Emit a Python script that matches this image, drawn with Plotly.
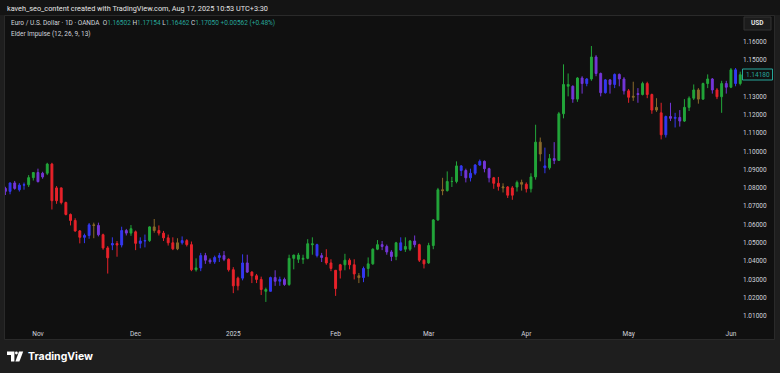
import pandas as pd
import plotly.graph_objects as go

# ---------------- data (EUR/USD daily, OANDA) ----------------
dates = [d.strftime("%Y-%m-%d") for d in pd.bdate_range("2024-10-23", "2025-06-04")
         if d.strftime("%Y-%m-%d") not in ("2024-12-25", "2025-01-01")]

opens = [1.0797,1.0781,1.0827,1.0790,1.0815,1.0817,1.0856,1.0884,1.0860,1.0880,
         1.0930,1.0730,1.0800,1.0720,1.0655,1.0622,1.0565,1.0530,1.0540,1.0598,
         1.0595,1.0544,1.0472,1.0488,1.0496,1.0488,1.0567,1.0553,1.0560,1.0497,
         1.0510,1.0512,1.0587,1.0567,1.0553,1.0527,1.0500,1.0467,1.0500,1.0512,
         1.0490,1.0353,1.0363,1.0430,1.0405,1.0396,1.0420,1.0430,1.0410,1.0353,
         1.0265,1.0307,1.0390,1.0340,1.0320,1.0300,1.0245,1.0235,1.0310,1.0290,
         1.0300,1.0272,1.0415,1.0433,1.0410,1.0415,1.0495,1.0490,1.0430,1.0420,
         1.0390,1.0250,1.0350,1.0380,1.0405,1.0380,1.0320,1.0310,1.0360,1.0385,
         1.0465,1.0490,1.0480,1.0450,1.0425,1.0500,1.0480,1.0465,1.0510,1.0490,
         1.0405,1.0390,1.0485,1.0625,1.0790,1.0785,1.0835,1.0835,1.0920,1.0895,
         1.0855,1.0880,1.0925,1.0945,1.0905,1.0855,1.0825,1.0800,1.0805,1.0760,
         1.0805,1.0830,1.0820,1.0795,1.0860,1.1050,1.0920,1.0910,1.0960,1.0950,
         1.1205,1.1365,1.1355,1.1285,1.1400,1.1370,1.1395,1.1515,1.1425,1.1320,
         1.1390,1.1365,1.1420,1.1395,1.1330,1.1295,1.1315,1.1310,1.1370,1.1310,
         1.1225,1.1210,1.1090,1.1190,1.1180,1.1185,1.1165,1.1240,1.1290,1.1335,
         1.1285,1.1370,1.1395,1.1335,1.1298,1.1370,1.1350,1.1445,1.1370]
highs = [1.0806,1.0829,1.0838,1.0826,1.0829,1.0870,1.0886,1.0905,1.0888,1.0937,
         1.0937,1.0810,1.0802,1.0725,1.0660,1.0634,1.0570,1.0550,1.0608,1.0610,
         1.0610,1.0550,1.0482,1.0530,1.0510,1.0588,1.0576,1.0597,1.0567,1.0530,
         1.0545,1.0590,1.0630,1.0595,1.0565,1.0545,1.0530,1.0525,1.0535,1.0520,
         1.0507,1.0415,1.0445,1.0445,1.0415,1.0430,1.0445,1.0455,1.0415,1.0367,
         1.0315,1.0437,1.0435,1.0345,1.0330,1.0315,1.0255,1.0315,1.0350,1.0315,
         1.0310,1.0435,1.0435,1.0445,1.0435,1.0520,1.0530,1.0495,1.0445,1.0465,
         1.0410,1.0345,1.0385,1.0440,1.0415,1.0410,1.0335,1.0370,1.0420,1.0470,
         1.0515,1.0510,1.0490,1.0460,1.0505,1.0530,1.0530,1.0515,1.0540,1.0495,
         1.0410,1.0500,1.0630,1.0800,1.0855,1.0890,1.0860,1.0945,1.0925,1.0905,
         1.0905,1.0930,1.0955,1.0950,1.0910,1.0860,1.0860,1.0825,1.0810,1.0810,
         1.0840,1.0845,1.0830,1.0880,1.1145,1.1075,1.1020,1.0985,1.1050,1.1215,
         1.1475,1.1425,1.1360,1.1405,1.1410,1.1400,1.1575,1.1525,1.1430,1.1395,
         1.1395,1.1425,1.1425,1.1405,1.1340,1.1380,1.1345,1.1380,1.1380,1.1315,
         1.1290,1.1265,1.1195,1.1265,1.1210,1.1225,1.1285,1.1300,1.1365,1.1345,
         1.1375,1.1420,1.1400,1.1345,1.1385,1.1385,1.1455,1.1455,1.1435]
lows = [1.0761,1.0765,1.0790,1.0780,1.0790,1.0805,1.0840,1.0830,1.0850,1.0870,
        1.0682,1.0713,1.0710,1.0650,1.0595,1.0560,1.0497,1.0498,1.0522,1.0525,
        1.0535,1.0462,1.0332,1.0460,1.0424,1.0475,1.0540,1.0538,1.0460,1.0470,
        1.0475,1.0505,1.0555,1.0540,1.0510,1.0485,1.0460,1.0460,1.0490,1.0480,
        1.0345,1.0343,1.0345,1.0385,1.0385,1.0385,1.0395,1.0400,1.0343,1.0225,
        1.0240,1.0295,1.0335,1.0280,1.0280,1.0215,1.0177,1.0235,1.0265,1.0265,
        1.0265,1.0265,1.0355,1.0390,1.0385,1.0410,1.0435,1.0420,1.0395,1.0380,
        1.0345,1.0210,1.0305,1.0350,1.0355,1.0300,1.0280,1.0285,1.0315,1.0380,
        1.0460,1.0460,1.0435,1.0400,1.0405,1.0455,1.0450,1.0455,1.0475,1.0395,
        1.0360,1.0385,1.0465,1.0620,1.0760,1.0780,1.0805,1.0825,1.0865,1.0830,
        1.0835,1.0870,1.0920,1.0885,1.0830,1.0795,1.0785,1.0775,1.0745,1.0735,
        1.0780,1.0785,1.0775,1.0775,1.0845,1.0945,1.0880,1.0900,1.0930,1.0950,
        1.1180,1.1300,1.1265,1.1270,1.1315,1.1355,1.1385,1.1410,1.1300,1.1315,
        1.1315,1.1345,1.1355,1.1310,1.1265,1.1275,1.1265,1.1305,1.1290,1.1205,
        1.1215,1.1065,1.1075,1.1165,1.1130,1.1135,1.1160,1.1220,1.1280,1.1260,
        1.1280,1.1345,1.1315,1.1285,1.1210,1.1315,1.1345,1.1355,1.1360]
closes = [1.0781,1.0827,1.0797,1.0815,1.0817,1.0856,1.0884,1.0834,1.0880,1.0930,
          1.0730,1.0800,1.0720,1.0655,1.0622,1.0565,1.0530,1.0540,1.0598,1.0595,
          1.0544,1.0472,1.0418,1.0496,1.0488,1.0567,1.0553,1.0577,1.0497,1.0510,
          1.0512,1.0587,1.0567,1.0553,1.0527,1.0500,1.0467,1.0500,1.0512,1.0490,
          1.0353,1.0363,1.0430,1.0405,1.0396,1.0420,1.0430,1.0410,1.0353,1.0265,
          1.0307,1.0390,1.0340,1.0320,1.0300,1.0245,1.0235,1.0310,1.0290,1.0300,
          1.0272,1.0415,1.0433,1.0410,1.0415,1.0495,1.0490,1.0430,1.0420,1.0390,
          1.0360,1.0350,1.0380,1.0405,1.0380,1.0330,1.0310,1.0360,1.0385,1.0465,
          1.0490,1.0480,1.0450,1.0425,1.0500,1.0460,1.0465,1.0510,1.0490,1.0405,
          1.0385,1.0485,1.0625,1.0790,1.0785,1.0835,1.0835,1.0920,1.0895,1.0855,
          1.0880,1.0925,1.0945,1.0905,1.0855,1.0825,1.0808,1.0805,1.0760,1.0800,
          1.0830,1.0820,1.0795,1.0860,1.1050,1.0985,1.0910,1.0960,1.0950,1.1205,
          1.1365,1.1355,1.1285,1.1400,1.1370,1.1395,1.1515,1.1425,1.1320,1.1390,
          1.1365,1.1420,1.1395,1.1330,1.1295,1.1300,1.1310,1.1370,1.1310,1.1225,
          1.1240,1.1090,1.1190,1.1180,1.1185,1.1165,1.1240,1.1290,1.1335,1.1285,
          1.1370,1.1395,1.1335,1.1298,1.1370,1.1350,1.1445,1.1370,1.1418]
# Elder Impulse bar colour per bar (g=green, r=red, b=blue, p=blue on down bar, o=mixed)
impulse = ['p','b','p','b','b','g','g','p','p','g',
           'r','r','r','r','r','r','r','b','b','o',
           'p','r','r','b','r','b','p','g','r','b',
           'b','g','o','r','r','r','r','o','b','r',
           'r','g','b','p','p','b','b','p','r','r',
           'r','b','p','r','r','r','g','b','p','b',
           'p','g','g','g','g','g','g','b','p','r',
           'r','r','r','g','r','r','o','b','g','g',
           'g','p','p','p','g','b','g','g','p','r',
           'r','g','g','g','o','g','g','g','b','p',
           'b','b','b','p','p','r','r','o','r','r',
           'g','o','r','g','g','o','b','g','p','g',
           'g','g','p','g','p','b','g','p','p','b',
           'p','b','p','p','r','o','p','g','r','r',
           'o','r','b','p','b','p','g','g','g','o',
           'g','g','p','r','g','p','g','b','g']

month_ticks = ["2024-11-01", "2024-12-02", "2025-01-02", "2025-02-03",
               "2025-03-03", "2025-04-01", "2025-05-01", "2025-06-02"]
month_labels = ["Nov", "Dec", "2025", "Feb", "Mar", "Apr", "May", "Jun"]
price_ticks = [1.01, 1.02, 1.03, 1.04, 1.05, 1.06, 1.07, 1.08, 1.09, 1.10,
               1.11, 1.12, 1.13, 1.15, 1.16]
last_price = 1.14180
legend_vals = {"O": "1.16502", "H": "1.17154", "L": "1.16462", "C": "1.17050"}
legend_change = "+0.00562 (+0.48%)"

# ---------------- styling ----------------
W, H = 780, 373
PL, PR, PT, PB = 5, 742, 16, 325          # plot area in pixels
FONT = "Roboto, Liberation Sans, sans-serif"
colors = {"g": "#22a63a", "r": "#e8222a", "b": "#3438f2", "p": "#7436d8", "o": "#8a6a2a"}
PANE = "#101010"
FRAME = "#1e1e1e"
TXT = "#d1d4dc"
VALC = "#26a69a"

def px(x):
    return (x - PL) / (PR - PL)

def py(y):
    return (PB - y) / (PB - PT)

fig = go.Figure()
for code, col in colors.items():
    o = [v if c == code else None for v, c in zip(opens, impulse)]
    h = [v if c == code else None for v, c in zip(highs, impulse)]
    l = [v if c == code else None for v, c in zip(lows, impulse)]
    c_ = [v if c == code else None for v, c in zip(closes, impulse)]
    fig.add_trace(go.Candlestick(
        x=dates, open=o, high=h, low=l, close=c_,
        increasing=dict(line=dict(color=col, width=1), fillcolor=col),
        decreasing=dict(line=dict(color=col, width=1), fillcolor=col),
        whiskerwidth=0, hoverinfo="skip", showlegend=False))

shapes = [
    # header strip
    dict(type="rect", xref="paper", yref="paper", x0=px(0), x1=px(780), y0=py(0), y1=py(15),
         fillcolor="#141414", line=dict(width=0), layer="below"),
    # chart pane
    dict(type="rect", xref="paper", yref="paper", x0=px(4.5), x1=px(774.5), y0=py(15.5), y1=py(339.5),
         fillcolor=PANE, line=dict(color="#2a2a2a", width=1), layer="below"),
    # USD box
    dict(type="rect", xref="paper", yref="paper", x0=px(744), x1=px(771), y0=py(17), y1=py(30),
         fillcolor="#1c1c1c", line=dict(color="#333333", width=1)),
    # last price box
    dict(type="rect", xref="paper", yref="paper", x0=px(742.5), x1=px(772.5), y0=py(69),
         y1=py(80), fillcolor=PANE, line=dict(color=VALC, width=1)),
    # logo: T part
    dict(type="path", xref="paper", yref="paper",
         path="M{} L{} L{} L{} L{} L{} Z".format(
             *[f"{px(a):.5f},{py(b):.5f}" for a, b in
               [(7, 351.5), (14.4, 351.5), (14.4, 361.5), (11, 361.5), (11, 355), (7, 355)]]),
         fillcolor="#ffffff", line=dict(width=0)),
    dict(type="circle", xref="paper", yref="paper", x0=px(15.0), x1=px(17.8), y0=py(351.6), y1=py(354.4),
         fillcolor="#ffffff", line=dict(width=0)),
    dict(type="path", xref="paper", yref="paper",
         path="M{} L{} L{} L{} Z".format(
             *[f"{px(a):.5f},{py(b):.5f}" for a, b in
               [(19.0, 351.5), (23.2, 351.5), (19.4, 361.5), (15.4, 361.5)]]),
         fillcolor="#ffffff", line=dict(width=0)),
]

g = lambda s: f"<span style='color:{VALC}'>{s}</span>"
legend1 = ("Euro / U.S. Dollar · 1D · OANDA  " +
           " ".join(f"{k}{g(v)}" for k, v in legend_vals.items()) + " " + g(legend_change))

annotations = [
    dict(text="kaveh_seo_content created with TradingView.com, Aug 17, 2025 10:53 UTC+3:30",
         x=px(5), y=py(8), xref="paper", yref="paper", xanchor="left", yanchor="middle",
         showarrow=False, font=dict(family=FONT, size=7.3, color="#e6e6e6")),
    dict(text=legend1, x=px(9), y=py(23.5), xref="paper", yref="paper", xanchor="left",
         yanchor="middle", showarrow=False, font=dict(family=FONT, size=6.5, color=TXT)),
    dict(text="Elder Impulse (12, 26, 9, 13)", x=px(9), y=py(33.5), xref="paper", yref="paper",
         xanchor="left", yanchor="middle", showarrow=False, font=dict(family=FONT, size=6.5, color=TXT)),
    dict(text="<b>USD</b>", x=px(757.5), y=py(23.5), xref="paper", yref="paper", xanchor="center",
         yanchor="middle", showarrow=False, font=dict(family=FONT, size=6.5, color="#e6e6e6")),
    dict(text=f"{last_price:.5f}", x=px(757.5), y=py(74.5), xref="paper", yref="paper",
         xanchor="center", yanchor="middle", showarrow=False,
         font=dict(family=FONT, size=6.5, color=VALC)),
    dict(text="<b>TradingView</b>", x=px(26), y=py(356.5), xref="paper", yref="paper",
         xanchor="left", yanchor="middle", showarrow=False,
         font=dict(family="Inter, Lato, sans-serif", size=10.5, color="#ffffff")),
]

n = len(dates)
fig.update_layout(
    width=W, height=H,
    margin=dict(l=PL, r=W - PR, t=PT, b=H - PB, pad=0),
    paper_bgcolor=FRAME, plot_bgcolor=PANE,
    boxgap=0.42,
    shapes=shapes, annotations=annotations,
    xaxis=dict(type="category", categoryorder="array", categoryarray=dates,
               range=[-0.086, n - 1 + 0.38], rangeslider=dict(visible=False),
               tickvals=month_ticks, ticktext=month_labels, showgrid=False, zeroline=False,
               showline=False, ticks="", ticklabelstandoff=3,
               tickfont=dict(family=FONT, size=6.5, color=TXT), fixedrange=True),
    yaxis=dict(side="right", range=[1.0051, 1.1739], tickvals=price_ticks,
               ticktext=[f"{v:.5f}" for v in price_ticks], showgrid=False, zeroline=False,
               showline=False, ticks="", tickfont=dict(family=FONT, size=6.5, color=TXT),
               fixedrange=True),
)

fig.write_html("out.html")
